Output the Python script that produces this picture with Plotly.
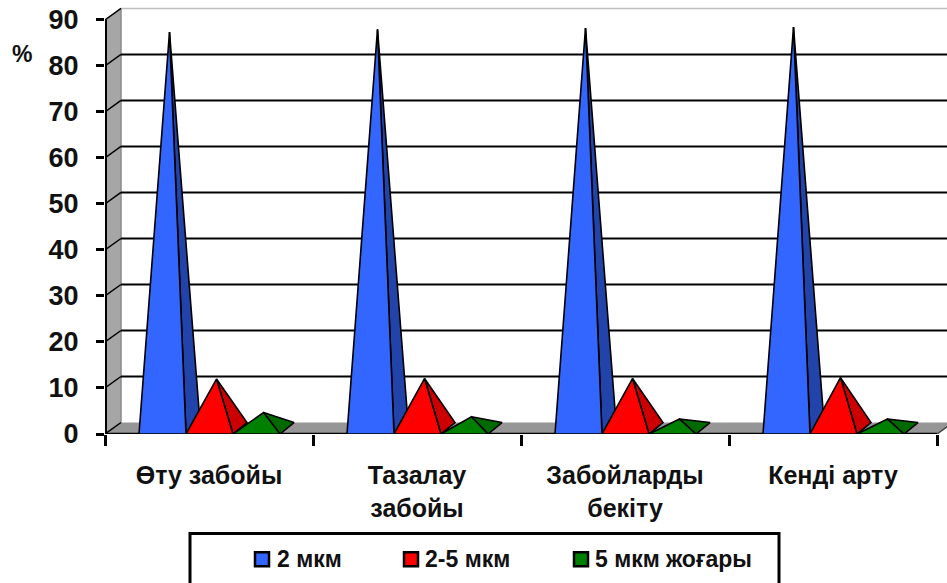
import plotly.graph_objects as go

categories = ["Өту забойы", "Тазалау<br>забойы", "Забойларды<br>бекіту", "Кенді арту"]
series_names = ["2 мкм", "2-5 мкм", "5 мкм жоғары"]
values_2 = [86.1, 86.7, 87.0, 87.2]
values_2_5 = [10.7, 10.8, 10.8, 11.0]
values_5 = [3.4, 2.5, 2.0, 2.0]
y_ticks = [0, 10, 20, 30, 40, 50, 60, 70, 80, 90]
front_colors = ["#3366FF", "#FF0000", "#008000"]
side_colors = ["#2244AA", "#CC0000", "#006A00"]

FONT = "Liberation Sans"
W, H = 947, 583
LEFT, ZERO, TOP = 105, 434.5, 5
PX_X, PX_Y = 208.0, 4.606
DX, DY = 16 / PX_X, 11.5 / PX_Y
PYR_DX = 14 / PX_X
PYR_W = 47 / PX_X
PYR_START = 34 / PX_X
INK = "#000000"
X_MAX = (W - LEFT) / PX_X
Y_MAX = (ZERO - TOP) / PX_Y
plot_w, plot_h = W - LEFT, ZERO - TOP


def px(v):
    return (v - LEFT) / plot_w


def py(v):
    return (ZERO - v) / plot_h


fig = go.Figure()


def poly(xs, ys, fill, line=None, width=0):
    fig.add_trace(go.Scatter(
        x=xs, y=ys, mode="lines", fill="toself" if fill else None, fillcolor=fill,
        line=dict(color=line or "rgba(0,0,0,0)", width=width),
        hoverinfo="skip", showlegend=False))


# floor and side wall
poly([0, 4, 4 + DX, DX, 0], [0, 0, DY, DY, 0], "#969696")
poly([0, DX, DX, 0, 0], [0, DY, 90 + DY, 90, 0], "#A6A6A6")
poly([DX, DX], [DY, 90 + DY], None, "#8A8A8A", 1.5)

# gridlines on the side wall and on the back wall
for t in y_ticks[1:]:
    poly([DX, X_MAX + 1], [t + DY, t + DY], None, INK if t < 90 else "#BDBDBD", 2 if t < 90 else 1.5)
    poly([0, DX], [t, t + DY], None, INK, 1.5)
poly([0, DX], [0, DY], None, INK, 1.5)
poly([4, 4 + DX * 0.7], [0, DY * 0.7], None, "#444444", 1.5)
poly([0, 0], [0, 90], None, INK, 4)
poly([0, 4], [0, 0], None, INK, 2.5)

# pyramids
all_values = [values_2, values_2_5, values_5]
for c in range(len(categories)):
    for s, vals in enumerate(all_values):
        left = c + PYR_START + s * PYR_W
        right = left + PYR_W
        ax = left + PYR_W / 2 + PYR_DX / 2
        ay = vals[c] + DY / 2
        poly([right, right + PYR_DX, ax, right], [0, DY, ay, 0], side_colors[s], INK, 1.6)
        poly([left, right, ax, left], [0, 0, ay, 0], front_colors[s], INK, 1.6)

# tick marks for category boundaries live on an overlaid axis
fig.add_trace(go.Scatter(x=[0], y=[0], xaxis="x2", mode="lines", hoverinfo="skip", showlegend=False))

# hand-placed legend
swatch_x = [255, 404, 574]
text_x = [276, 424, 594]
legend_y = 560
shapes = [dict(type="rect", xref="paper", yref="paper", x0=px(190), x1=px(779),
               y0=py(600), y1=py(534), line=dict(color=INK, width=3),
               fillcolor="rgba(0,0,0,0)", layer="above")]
annotations = [dict(text="%", xref="paper", yref="paper", x=px(22), y=py(54), showarrow=False,
                    xanchor="center", yanchor="middle",
                    font=dict(size=23, family=FONT, weight="bold", color="#111111"))]
for name, colr, sx, tx in zip(series_names, front_colors, swatch_x, text_x):
    shapes.append(dict(type="rect", xref="paper", yref="paper", x0=px(sx), x1=px(sx + 14),
                       y0=py(legend_y + 7), y1=py(legend_y - 7), fillcolor=colr,
                       line=dict(color=INK, width=2.5), layer="above"))
    annotations.append(dict(text=name, xref="paper", yref="paper", x=px(tx), y=py(legend_y),
                            showarrow=False, xanchor="left", yanchor="middle", xshift=-1,
                            font=dict(size=23, family=FONT, weight="bold", color="#111111")))

fig.update_layout(
    width=W, height=H, autosize=False,
    margin=dict(l=LEFT, r=0, t=TOP, b=H - ZERO, pad=0, autoexpand=False),
    paper_bgcolor="white", plot_bgcolor="rgba(0,0,0,0)",
    font=dict(family=FONT, color=INK), showlegend=False,
    xaxis=dict(range=[0, X_MAX], tickmode="array", tickvals=[i + 0.5 for i in range(4)],
               ticktext=categories, ticks="", ticklabelstandoff=24, showgrid=False, zeroline=False,
               tickfont=dict(family=FONT, size=25, color="#111111", weight="bold"), showline=False),
    xaxis2=dict(range=[0, X_MAX], overlaying="x", side="bottom", anchor="y", tickmode="array",
                tickvals=[0, 1, 2, 3, 4], ticktext=["", "", "", "", ""], ticks="outside", ticklen=11,
                tickwidth=2.5, tickcolor=INK, showgrid=False, zeroline=False, showline=False),
    yaxis=dict(range=[0, Y_MAX], tickmode="array", tickvals=y_ticks, ticks="outside", ticklen=8,
               tickwidth=2.5, tickcolor=INK, showgrid=False, zeroline=False, showline=False,
               ticklabelstandoff=12,
               tickfont=dict(family=FONT, size=27, color="#111111", weight="bold")),
    annotations=annotations,
    shapes=shapes,
)

fig.write_html("out.html", config={"displayModeBar": False},
               post_script="document.body.style.margin='0';document.body.style.overflow='hidden';")
